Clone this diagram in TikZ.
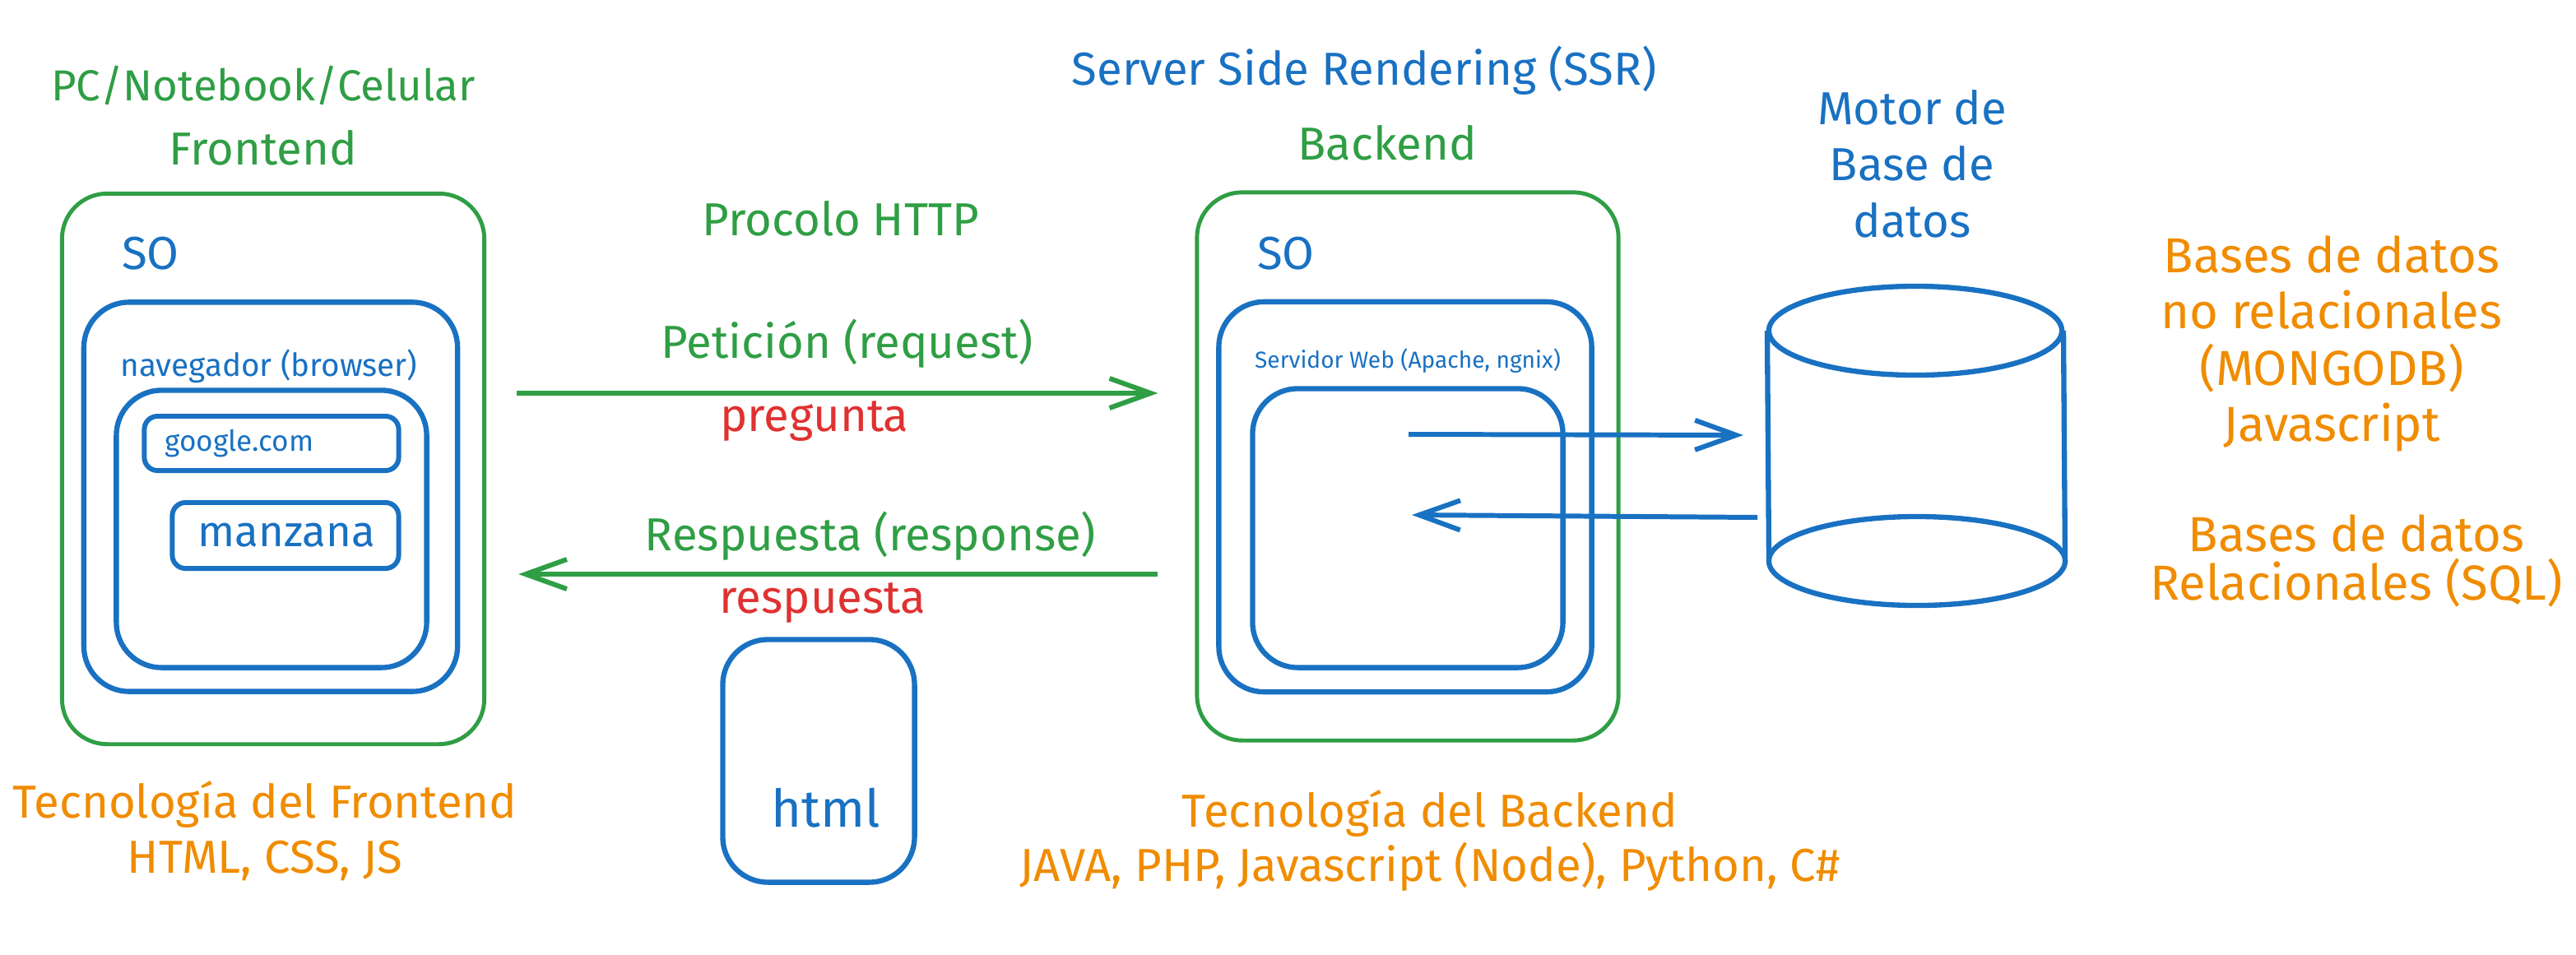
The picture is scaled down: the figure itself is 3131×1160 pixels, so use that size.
\documentclass[tikz,border=0pt]{standalone}
\usepackage{fontspec}
\setmainfont{Fira Sans}
\usepackage{xcolor}
\usetikzlibrary{arrows.meta,calc}

\definecolor{verde}{HTML}{2F9E44}
\definecolor{azul}{HTML}{1971C2}
\definecolor{naranja}{HTML}{F08C00}
\definecolor{rojo}{HTML}{E03131}

\begin{document}
\begin{tikzpicture}[x=0.01cm, y=-0.01cm,
    caja/.style={draw=verde, line width=1.4pt, rounded corners=0.55cm},
    marco/.style={draw=azul, line width=1.8pt, rounded corners=0.55cm},
    barra/.style={draw=azul, line width=1.7pt, rounded corners=0.16cm},
    flecha/.style={line width=1.7pt, -{Straight Barb[length=0.5cm, width=0.36cm]}},
    grande/.style={font=\fontsize{16}{19}\selectfont, align=center}]
    \useasboundingbox (0,0) rectangle (3131,1160);

    % Frontend: equipo del usuario
    \node[grande, verde, font=\fontsize{15}{19}\selectfont] (pc) at (320,104) {PC/Notebook/Celular};
    \node[grande, verde] (front) at (320,180) {Frontend};
    \node[caja, minimum width=5.13cm, minimum height=6.69cm] (client) at (332,570) {};
    \node[grande, azul] (soc) at (183,308) {SO};
    \node[marco, minimum width=4.54cm, minimum height=4.73cm] (browser) at (329,604) {};
    \node[azul, font=\fontsize{11}{13}\selectfont] (nav) at (327,445) {navegador (browser)};
    \node[marco, minimum width=3.77cm, minimum height=3.37cm] (page) at (330,643) {};
    \node[barra, minimum width=3.09cm, minimum height=0.66cm] (url) at (330,539) {};
    \node[azul, anchor=west, inner sep=0pt, font=\fontsize{10}{12}\selectfont] (google) at (200,539) {google.com};
    \node[barra, minimum width=2.75cm, minimum height=0.80cm] (btn) at (347,651) {};
    \node[azul, font=\fontsize{15}{17}\selectfont] (manzana) at (348,651) {manzana};

    % Protocolo entre cliente y servidor
    \node[grande, verde] (http) at (1022,266) {Procolo HTTP};
    \node[grande, verde] (pet) at (1030,418) {Petición (request)};
    \node[grande, rojo] (preg) at (990,512) {pregunta};
    \node[grande, verde] (resp) at (1058,652) {Respuesta (response)};
    \node[grande, rojo] (respu) at (1000,733) {respuesta};
    \node[marco, minimum width=2.33cm, minimum height=2.95cm] (htmlbox) at (995,925) {};
    \node[azul, font=\fontsize{18}{20}\selectfont] (html) at (1004,982) {html};

    % Backend: servidor
    \node[grande, azul] (ssr) at (1658,86) {Server Side Rendering (SSR)};
    \node[grande, verde] (back) at (1686,174) {Backend};
    \node[caja, minimum width=5.12cm, minimum height=6.66cm] (server) at (1711,567) {};
    \node[grande, azul] (sos) at (1563,308) {SO};
    \node[marco, minimum width=4.53cm, minimum height=4.74cm] (web) at (1708,604) {};
    \node[azul, font=\fontsize{8}{10}\selectfont] (webtxt) at (1711,439) {Servidor Web (Apache, ngnix)};
    \node[marco, minimum width=3.77cm, minimum height=3.39cm] (app) at (1711,642) {};

    % Motor de base de datos
    \node[grande, azul, font=\fontsize{16}{19.5}\selectfont] (motor) at (2324,199) {Motor de\\Base de\\datos};
    \coordinate (db) at (2330,542);
    \draw[azul, line width=1.8pt] ($(db)+(-2,-140)$) ellipse [x radius=1.78cm, y radius=0.54cm];
    \draw[azul, line width=1.8pt] ($(db)+(0,140)$) ellipse [x radius=1.80cm, y radius=0.54cm];
    \draw[azul, line width=1.8pt] ($(db)+(-182,-140)$) -- ($(db)+(-180,140)$);
    \draw[azul, line width=1.8pt] ($(db)+(178,-140)$) -- ($(db)+(180,140)$);

    \node[grande, naranja, font=\fontsize{17}{19.5}\selectfont] (nosql) at (2834,418) {Bases de datos\\no relacionales\\(MONGODB)\\Javascript};
    \node[grande, naranja, font=\fontsize{17}{17}\selectfont] (sql) at (2864,682) {Bases de datos\\Relacionales (SQL)};

    % Tecnologias
    \node[grande, naranja] (tfront) at (322,1010) {Tecnología del Frontend\\HTML, CSS, JS};
    \node[grande, naranja] (tback) at (1738,1022) {Tecnología del Backend\\JAVA, PHP, Javascript (Node), Python, C\#};

    % Flechas
    \draw[flecha, verde] ($(client.east)+(37,-92)$) -- ($(server.west)+(-45,-89)$);
    \draw[flecha, verde] ($(server.west)+(-45,131)$) -- ($(client.east)+(39,128)$);
    \draw[flecha, azul] ($(app.center)+(1,-114)$) -- ($(db)+(-211,-13)$);
    \draw[flecha, azul] ($(db)+(-194,87)$) -- ($(app.center)+(5,-16)$);
\end{tikzpicture}
\end{document}
